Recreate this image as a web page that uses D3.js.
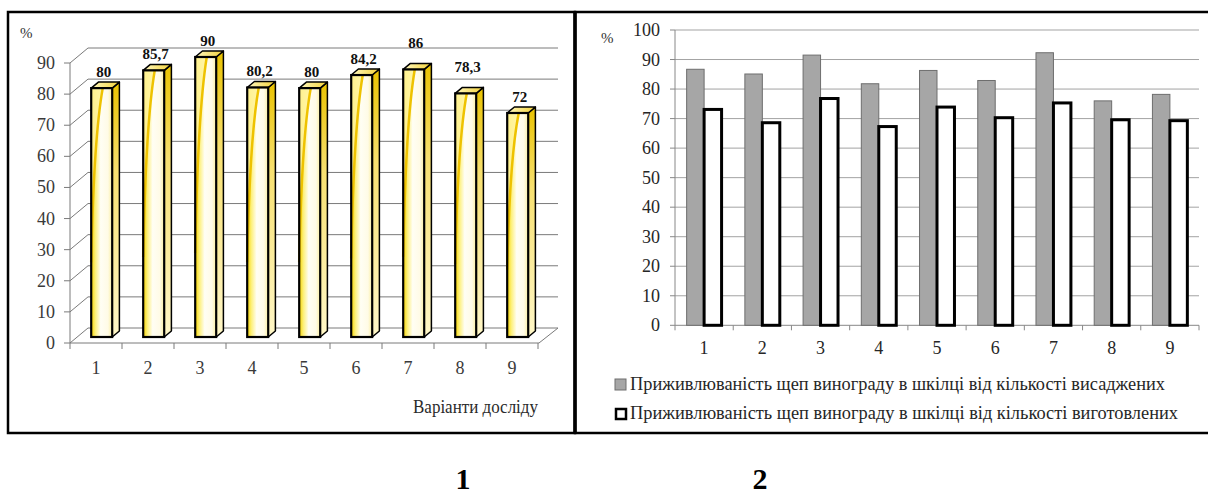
<!DOCTYPE html>
<html>
<head>
<meta charset="utf-8" />
<title>Приживлюваність щеп винограду</title>
<script src="https://d3js.org/d3.v7.min.js"></script>
<style>
  body { margin: 0; background: #fff; }
</style>
</head>
<body>
<svg id="chart" width="1208" height="495" font-family="'Liberation Serif', 'Times New Roman', 'DejaVu Serif', serif"></svg>
<script>
// ---- data ----
var variants = ["1", "2", "3", "4", "5", "6", "7", "8", "9"];
// chart 1: survival, %
var survival = [80, 85.7, 90, 80.2, 80, 84.2, 86, 78.3, 72];
var leftTicks = [0, 10, 20, 30, 40, 50, 60, 70, 80, 90];
// chart 2: two series
var fromPlanted = [86.7, 85.1, 91.5, 81.8, 86.3, 82.9, 92.3, 76.0, 78.2];
var fromPrepared = [73.1, 68.6, 76.8, 67.3, 73.9, 70.3, 75.3, 69.6, 69.3];
var rightTicks = [0, 10, 20, 30, 40, 50, 60, 70, 80, 90, 100];
var legendLabels = [
  "Приживлюваність щеп винограду в шкілці від кількості висаджених",
  "Приживлюваність щеп винограду в шкілці від кількості виготовлених"
];
var panelCaptions = ["1", "2"];

// label lift (excel placed two labels higher)
var labelLift = [0, 0, 0, 0, 0, 0, 10, 10, 0];

var comma = d3.formatLocale({ decimal: ",", thousands: " ", grouping: [3], currency: ["", ""] });
var fmt = function (v) { return comma.format("~f")(v); };

var svg = d3.select("#chart");
var defs = svg.append("defs");

// gradients for the 3d bars
var fg = defs.append("linearGradient").attr("id", "frontGrad").attr("x1", 0).attr("x2", 1).attr("y1", 0).attr("y2", 0);
[[0, "#f6d400"], [0.2, "#fdf07a"], [0.45, "#fffef4"], [0.8, "#fffbe6"], [1, "#faee9e"]].forEach(function (s) {
  fg.append("stop").attr("offset", s[0]).attr("stop-color", s[1]);
});
var sg = defs.append("linearGradient").attr("id", "sideGrad").attr("x1", 0).attr("x2", 0).attr("y1", 0).attr("y2", 1);
[[0, "#e9c200"], [0.35, "#f7e070"], [1, "#fff7c8"]].forEach(function (s) {
  sg.append("stop").attr("offset", s[0]).attr("stop-color", s[1]);
});
var tg = defs.append("linearGradient").attr("id", "topGrad").attr("x1", 0).attr("x2", 1).attr("y1", 0).attr("y2", 0);
[[0, "#fff8c0"], [1, "#f3d23a"]].forEach(function (s) {
  tg.append("stop").attr("offset", s[0]).attr("stop-color", s[1]);
});

// ---- panel frames ----
svg.append("rect").attr("x", 8).attr("y", 12).attr("width", 567).attr("height", 421)
  .attr("fill", "none").attr("stroke", "#000").attr("stroke-width", 2.5);
svg.append("rect").attr("x", 575).attr("y", 12).attr("width", 640).attr("height", 421)
  .attr("fill", "none").attr("stroke", "#000").attr("stroke-width", 2.5);
svg.append("line").attr("x1", 575).attr("x2", 575).attr("y1", 12).attr("y2", 433)
  .attr("stroke", "#000").attr("stroke-width", 3.5);

// ================= chart 1 (3d columns) =================
var g1 = svg.append("g");
var depthX = 18, depthY = 15;
var yL = d3.scaleLinear().domain([0, 90]).range([343, 63]);
var xL = d3.scaleBand().domain(variants).range([70, 538]);
var gridCol = "#7a7a7a";

leftTicks.forEach(function (t) {
  var y = yL(t);
  g1.append("line").attr("x1", 70).attr("y1", y).attr("x2", 70 + depthX).attr("y2", y - depthY)
    .attr("stroke", gridCol);
  g1.append("line").attr("x1", 70 + depthX).attr("y1", y - depthY).attr("x2", 558).attr("y2", y - depthY)
    .attr("stroke", gridCol);
  g1.append("line").attr("x1", 64).attr("x2", 70).attr("y1", y).attr("y2", y).attr("stroke", gridCol);
  g1.append("text").attr("x", 55).attr("y", y + 6).attr("text-anchor", "end")
    .attr("font-size", 18).attr("fill", "#3a3a3a").text(t);
});
g1.append("line").attr("x1", 70).attr("x2", 70).attr("y1", yL(0)).attr("y2", yL(90)).attr("stroke", gridCol);
g1.append("line").attr("x1", 70).attr("x2", 539).attr("y1", yL(0)).attr("y2", yL(0)).attr("stroke", gridCol);
g1.append("line").attr("x1", 539).attr("y1", yL(0)).attr("x2", 558).attr("y2", yL(0) - depthY).attr("stroke", gridCol);
variants.concat(["end"]).forEach(function (v, i) {
  var x = 70 + i * xL.bandwidth();
  g1.append("line").attr("x1", x).attr("x2", x).attr("y1", yL(0)).attr("y2", yL(0) + 6).attr("stroke", gridCol);
});
variants.forEach(function (v) {
  g1.append("text").attr("x", xL(v) + xL.bandwidth() / 2).attr("y", 374).attr("text-anchor", "middle")
    .attr("font-size", 18).attr("fill", "#3a3a3a").text(v);
});
g1.append("text").attr("x", 538).attr("y", 413).attr("text-anchor", "end")
  .attr("font-size", 18).attr("fill", "#2a2a2a").attr("textLength", 125)
  .attr("lengthAdjust", "spacingAndGlyphs").text("Варіанти досліду");
g1.append("text").attr("x", 20).attr("y", 38).attr("font-size", 15).attr("fill", "#333").text("%");

// bars sit 40% into the depth, 40% deep
var bx = depthX * 0.4, by = depthY * 0.4, bw = 21;
var bars1 = g1.selectAll("g.bar").data(survival).enter().append("g").attr("class", "bar");
bars1.each(function (d, i) {
  var g = d3.select(this);
  var x0 = xL(variants[i]) + 14 + bx;
  var yb = yL(0) - by, yt = yL(d) - by;
  var h = yb - yt;
  g.append("polygon")
    .attr("points", [[x0 + bw, yt], [x0 + bw + bx, yt - by], [x0 + bw + bx, yb - by], [x0 + bw, yb]].join(" "))
    .attr("fill", "url(#sideGrad)").attr("stroke", "#000").attr("stroke-width", 1.5).attr("stroke-linejoin", "round");
  g.append("polygon")
    .attr("points", [[x0, yt], [x0 + bx, yt - by], [x0 + bw + bx, yt - by], [x0 + bw, yt]].join(" "))
    .attr("fill", "url(#topGrad)").attr("stroke", "#000").attr("stroke-width", 1.5).attr("stroke-linejoin", "round");
  g.append("rect").attr("x", x0).attr("y", yt).attr("width", bw).attr("height", h)
    .attr("fill", "url(#frontGrad)");
  // yellow swoosh
  g.append("path")
    .attr("d", "M" + x0 + "," + yt + " L" + (x0 + bw * 0.55) + "," + yt +
      " Q" + (x0 + bw * 0.12) + "," + (yt + h * 0.2) + " " + x0 + "," + (yt + h * 0.7) + " Z")
    .attr("fill", "#fff39a").attr("opacity", 0.9);
  g.append("path")
    .attr("d", "M" + (x0 + bw * 0.55) + "," + yt +
      " Q" + (x0 + bw * 0.12) + "," + (yt + h * 0.2) + " " + x0 + "," + (yt + h * 0.7))
    .attr("fill", "none").attr("stroke", "#eec200").attr("stroke-width", 2.5);
  g.append("rect").attr("x", x0).attr("y", yt).attr("width", bw).attr("height", h)
    .attr("fill", "none").attr("stroke", "#000").attr("stroke-width", 2.2);
  g.append("text").attr("x", x0 + bw / 2 + 2).attr("y", yt - 11 - labelLift[i])
    .attr("text-anchor", "middle").attr("font-size", 15).attr("font-weight", "bold")
    .attr("fill", "#111").text(fmt(d));
});

// ================= chart 2 (clustered columns) =================
var g2 = svg.append("g");
var yR = d3.scaleLinear().domain([0, 100]).range([325.3, 30]);
var xR = d3.scaleBand().domain(variants).range([675, 1199]);
var xs = d3.scaleBand().domain([0, 1]).range([xR.bandwidth() * 0.2, xR.bandwidth() * 0.8]);

rightTicks.forEach(function (t) {
  var y = yR(t);
  if (t > 0) {
    g2.append("line").attr("x1", 675).attr("x2", 1199).attr("y1", y).attr("y2", y)
      .attr("stroke", "#a3a3a3").attr("stroke-width", 1);
  }
  g2.append("line").attr("x1", 670).attr("x2", 675).attr("y1", y).attr("y2", y).attr("stroke", "#888");
  g2.append("text").attr("x", 660).attr("y", y + 6).attr("text-anchor", "end")
    .attr("font-size", 18).attr("fill", "#262626").text(t);
});
g2.append("line").attr("x1", 675).attr("x2", 675).attr("y1", yR(0)).attr("y2", yR(100)).attr("stroke", "#888");
g2.append("line").attr("x1", 675).attr("x2", 1199).attr("y1", yR(0)).attr("y2", yR(0)).attr("stroke", "#888");
variants.concat(["end"]).forEach(function (v, i) {
  var x = 675 + i * xR.bandwidth();
  g2.append("line").attr("x1", x).attr("x2", x).attr("y1", yR(0)).attr("y2", yR(0) + 5).attr("stroke", "#888");
});
variants.forEach(function (v) {
  g2.append("text").attr("x", xR(v) + xR.bandwidth() / 2).attr("y", 354).attr("text-anchor", "middle")
    .attr("font-size", 18).attr("fill", "#262626").text(v);
});
g2.append("text").attr("x", 601).attr("y", 43).attr("font-size", 15).attr("fill", "#333").text("%");

g2.selectAll("rect.planted").data(fromPlanted).enter().append("rect").attr("class", "planted")
  .attr("x", function (d, i) { return xR(variants[i]) + xs(0); })
  .attr("y", function (d) { return yR(d); })
  .attr("width", xs.bandwidth())
  .attr("height", function (d) { return yR(0) - yR(d); })
  .attr("fill", "#a6a6a6").attr("stroke", "#6e6e6e").attr("stroke-width", 1);
g2.selectAll("rect.prepared").data(fromPrepared).enter().append("rect").attr("class", "prepared")
  .attr("x", function (d, i) { return xR(variants[i]) + xs(1); })
  .attr("y", function (d) { return yR(d); })
  .attr("width", xs.bandwidth())
  .attr("height", function (d) { return yR(0) - yR(d); })
  .attr("fill", "#fff").attr("stroke", "#000").attr("stroke-width", 3);

// legend
var legendWidths = [535, 548];
legendLabels.forEach(function (lab, i) {
  var y = 384 + i * 29;
  if (i === 0) {
    g2.append("rect").attr("x", 615).attr("y", y - 5).attr("width", 11).attr("height", 11)
      .attr("fill", "#a6a6a6").attr("stroke", "#6e6e6e");
  } else {
    g2.append("rect").attr("x", 616).attr("y", y - 4).attr("width", 10).attr("height", 10)
      .attr("fill", "#fff").attr("stroke", "#000").attr("stroke-width", 2.5);
  }
  g2.append("text").attr("x", 630).attr("y", y + 6).attr("font-size", 18).attr("fill", "#262626")
    .attr("textLength", legendWidths[i]).attr("lengthAdjust", "spacingAndGlyphs").text(lab);
});

// captions under panels
[463, 760].forEach(function (x, i) {
  svg.append("text").attr("x", x).attr("y", 489).attr("text-anchor", "middle")
    .attr("font-size", 30).attr("font-weight", "bold").attr("fill", "#000").text(panelCaptions[i]);
});
</script>
</body>
</html>
